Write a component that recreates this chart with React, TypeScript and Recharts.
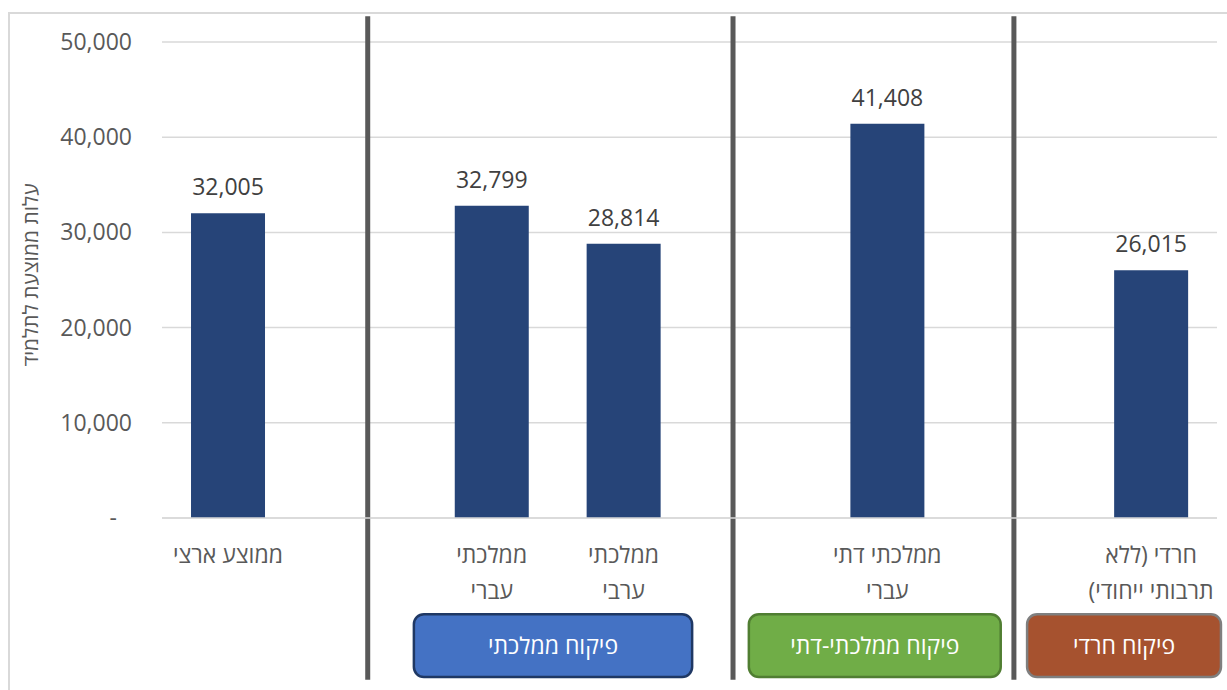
import React from "react";
import {
  Bar,
  BarChart,
  CartesianGrid,
  LabelList,
  ReferenceArea,
  ReferenceLine,
  XAxis,
  YAxis,
} from "recharts";

// categories (empty slots hold the group separators)
const categories = ["avg", "gap1", "mamHeb", "mamArab", "gap2", "datiHeb", "gap3", "haredi"];
const categoryLines: string[][] = [
  ["ממוצע ארצי"],
  [],
  ["ממלכתי", "עברי"],
  ["ממלכתי", "ערבי"],
  [],
  ["ממלכתי דתי", "עברי"],
  [],
  ["חרדי (ללא", "תרבותי ייחודי)"],
];
const costs: (number | null)[] = [32005, null, 32799, 28814, null, 41408, null, 26015];
const yTicks = [0, 10000, 20000, 30000, 40000, 50000];

// supervision groups, in slot units of the 8 categories
const groupNames = ["פיקוח ממלכתי", "פיקוח ממלכתי-דתי", "פיקוח חרדי"];
const groupFrom = [1.91, 4.45, 6.56];
const groupTo = [4.02, 6.36, 8.03];
const groupFill = ["#4472C4", "#70AD47", "#A6522F"];
const groupStroke = ["#1F3864", "#507E32", "#7F7F7F"];
const separators = [1.56, 4.33, 6.46];

const data = categories.map((c, i) => ({ key: c, cost: costs[i], pos: i + 0.5 }));

const FONT = '"Open Sans", "Noto Sans", "DejaVu Sans", sans-serif';
const INK = "#595959";

const fmt = (v: number) => v.toLocaleString("en-US");

function YTick(props: any) {
  const { x, y, payload } = props;
  const zero = payload.value === 0;
  return (
    <text
      x={zero ? x - 15 : x}
      y={y}
      dy={8}
      textAnchor="end"
      fill={INK}
      fontSize={23}
      fontFamily={FONT}
    >
      {zero ? "-" : fmt(payload.value)}
    </text>
  );
}

function XTick(props: any) {
  const { x, y, index } = props;
  const lines = categoryLines[index] || [];
  return (
    <text
      x={x}
      y={y}
      textAnchor="middle"
      direction="rtl"
      fill={INK}
      fontSize={23}
      fontFamily={FONT}
    >
      {lines.map((l, i) => (
        <tspan key={i} x={x} dy={i === 0 ? 37 : 36}>
          {l}
        </tspan>
      ))}
    </text>
  );
}

function YLabel(props: any) {
  const { viewBox } = props;
  const cx = viewBox.x + 20;
  const cy = viewBox.y + viewBox.height / 2 - 5;
  return (
    <text
      x={cx}
      y={cy}
      transform={`rotate(-90, ${cx}, ${cy})`}
      textAnchor="middle"
      dominantBaseline="central"
      direction="rtl"
      fill={INK}
      fontSize={21}
      fontFamily={FONT}
    >
      עלות ממוצעת לתלמיד
    </text>
  );
}

export default function App() {
  return (
    <div style={{ position: "absolute", left: 0, top: 0, width: 1227, height: 690, background: "#fff", overflow: "hidden" }}>
      <div
        style={{
          position: "absolute",
          left: 8,
          top: 12,
          width: 1240,
          height: 700,
          border: "2px solid #d9d9d9",
        }}
      />
      <div style={{ position: "absolute", left: 0, top: 0 }}>
        <BarChart
          width={1227}
          height={690}
          data={data}
          margin={{ top: 42, right: 10, left: 10, bottom: 82 }}
          barCategoryGap="22%"
        >
          <CartesianGrid vertical={false} stroke="#d9d9d9" strokeWidth={1.5} />
          <XAxis
            dataKey="key"
            interval={0}
            tick={<XTick />}
            tickLine={false}
            axisLine={{ stroke: "#d9d9d9", strokeWidth: 1.5 }}
            height={90}
          />
          <XAxis
            xAxisId="grp"
            dataKey="pos"
            type="number"
            domain={[0, 8]}
            allowDataOverflow
            padding={{ left: 0, right: 0 }}
            hide
          />
          <YAxis
            domain={[0, 50000]}
            ticks={yTicks}
            tick={<YTick />}
            tickLine={false}
            axisLine={false}
            tickMargin={24}
            width={152}
            label={{ content: <YLabel /> } as any}
          />
          <Bar dataKey="cost" fill="#264478" isAnimationActive={false}>
            <LabelList
              dataKey="cost"
              position="top"
              offset={18}
              formatter={(v: any) => (v == null ? "" : fmt(v))}
              style={{ fontSize: 23, fill: "#404040", fontFamily: FONT }}
            />
          </Bar>
          {separators.map((s, i) => (
            <ReferenceLine
              key={`sep${i}`}
              xAxisId="grp"
              segment={[
                { x: s, y: 52700 },
                { x: s, y: -17000 },
              ]}
              stroke="#595959"
              strokeWidth={5}
              ifOverflow="visible"
            />
          ))}
          {groupNames.map((g, i) => (
            <ReferenceArea
              key={g}
              xAxisId="grp"
              x1={groupFrom[i]}
              x2={groupTo[i]}
              y1={-10100}
              y2={-16700}
              ifOverflow="visible"
              fill={groupFill[i]}
              fillOpacity={1}
              stroke={groupStroke[i]}
              strokeWidth={2.5}
              radius={10}
              label={{
                value: g,
                position: "center",
                fill: "#ffffff",
                fontSize: 23,
                fontFamily: FONT,
              }}
            />
          ))}
        </BarChart>
      </div>
    </div>
  );
}
